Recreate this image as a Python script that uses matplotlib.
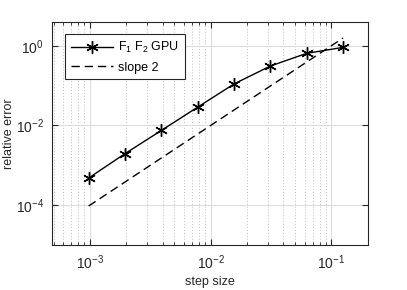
import matplotlib
matplotlib.use("Agg")
import matplotlib.pyplot as plt
import matplotlib.ticker as mticker
import numpy as np

step_size = [2**-10, 2**-9, 2**-8, 2**-7, 2**-6, 2**-5, 2**-4, 2**-3]
rel_error = [4.8e-4, 1.96e-3, 7.5e-3, 0.0288, 0.110, 0.31, 0.645, 0.91]
slope_coef = 100.0
slope_line = [slope_coef * h**2 for h in step_size]
y_ticks = [1e-4, 1e-2, 1e0]
x_ticks = [1e-3, 1e-2, 1e-1]

plt.rcParams['font.family'] = ['Liberation Sans', 'DejaVu Sans']
plt.rcParams['mathtext.fontset'] = 'custom'
plt.rcParams['mathtext.rm'] = 'Liberation Sans'
plt.rcParams['mathtext.it'] = 'Liberation Sans'
plt.rcParams['mathtext.default'] = 'regular'

fig = plt.figure(figsize=(4.07, 2.90), dpi=100)
ax = fig.add_axes([0.1285, 0.155, 0.7749, 0.770])

axc = '#262626'
ax.set_xscale('log')
ax.set_yscale('log')
ax.set_xlim(2**-11, 0.2)
ax.set_ylim(1e-5, 4)

ax.grid(True, which='major', color='#dcdcdc', linewidth=0.8, linestyle='-')
ax.grid(True, which='minor', axis='x', color='#bdbdbd', linewidth=0.7, linestyle=(0, (1, 2)))
ax.set_axisbelow(True)

ax.plot(step_size, rel_error, color='black', linewidth=1.0, marker=(6, 2, 0),
        markersize=9, markeredgewidth=1.0, label='F$_1$ F$_2$ GPU')
ax.plot(step_size, slope_line, color='black', linewidth=1.0, linestyle=(0, (6, 3.5)),
        label='slope 2')

def fmt(v, pos):
    e = int(round(np.log10(v)))
    return r'$10^{%d}$' % e

ax.set_xticks(x_ticks)
ax.set_yticks(y_ticks)
ax.xaxis.set_major_formatter(mticker.FuncFormatter(fmt))
ax.yaxis.set_major_formatter(mticker.FuncFormatter(fmt))
ax.yaxis.set_minor_locator(mticker.NullLocator())
ax.xaxis.set_minor_locator(mticker.LogLocator(base=10, subs=np.arange(2, 10)))
ax.xaxis.set_minor_formatter(mticker.NullFormatter())

ax.tick_params(which='major', direction='in', length=4, width=0.8, colors=axc,
               labelsize=10, top=True, right=True)
ax.tick_params(axis='x', which='major', pad=6)
ax.tick_params(axis='y', which='major', pad=6)
ax.tick_params(which='minor', direction='in', length=2.5, width=0.6, colors=axc,
               top=True, right=True)
for s in ax.spines.values():
    s.set_color(axc)
    s.set_linewidth(0.8)

ax.set_xlabel('step size', fontsize=9, color=axc)
ax.set_ylabel('relative error', fontsize=9, color=axc)
ax.xaxis.set_label_coords(0.5, -0.138)
ax.yaxis.set_label_coords(-0.117, 0.5)

leg = ax.legend(loc='upper left', fontsize=9, frameon=True, fancybox=False,
                edgecolor=axc, framealpha=1, borderpad=0.45, handlelength=3.4,
                handletextpad=0.4, bbox_to_anchor=(0.040, 0.944), labelspacing=0.55,
                borderaxespad=0)
leg.get_frame().set_linewidth(0.8)

fig.savefig('out.png', dpi=100)
